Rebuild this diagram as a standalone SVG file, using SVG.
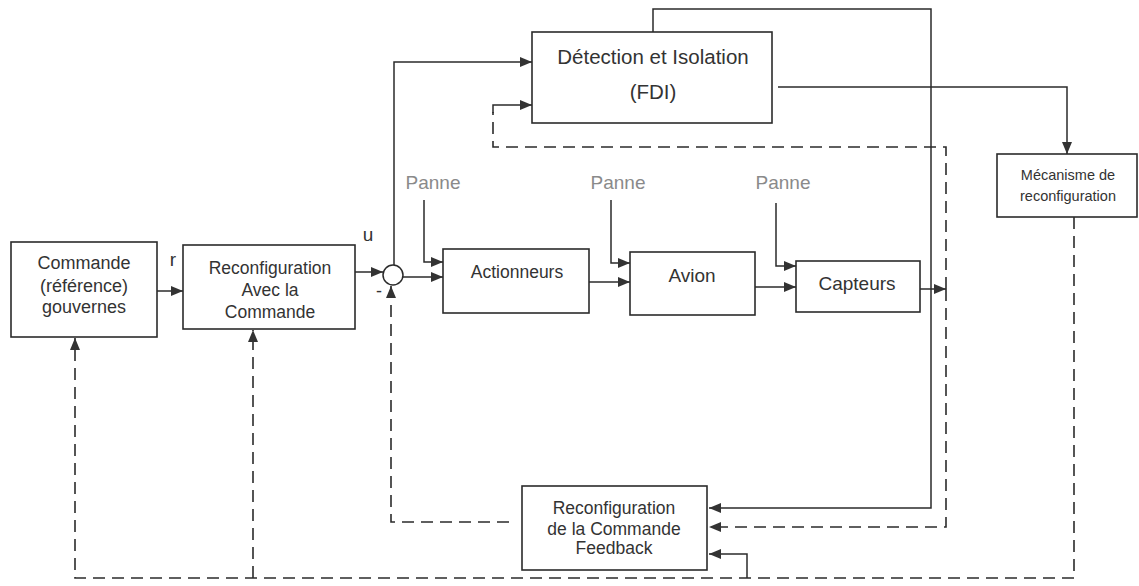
<svg xmlns="http://www.w3.org/2000/svg" width="1139" height="586" viewBox="0 0 1139 586">
  <defs>
    <marker id="ah" viewBox="0 0 12 10" refX="12" refY="5" markerWidth="12" markerHeight="10" markerUnits="userSpaceOnUse" orient="auto">
      <path d="M0,0 L12,5 L0,10 z" fill="#333" stroke="none"/>
    </marker>
    <style>
      .box { fill: #fff; stroke: #2b2b2b; stroke-width: 1.6; }
      .ln { fill: none; stroke: #2b2b2b; stroke-width: 1.5; }
      .dash { fill: none; stroke: #2b2b2b; stroke-width: 1.6; stroke-dasharray: 12 7; }
      .arr { marker-end: url(#ah); }
      text { font-family: "Liberation Sans", Arial, sans-serif; fill: #333; text-anchor: middle; }
      .t18 { font-size: 18px; }
      .t17 { font-size: 17.5px; }
      .t19 { font-size: 19px; }
      .t20 { font-size: 20.5px; }
      .small { font-size: 14.5px; }
      .panne { font-size: 19px; fill: #8a8a8a; }
    </style>
  </defs>
  <rect width="1139" height="586" fill="#fff"/>

  <!-- connectors -->
  <g id="connectors">
    <!-- forward chain -->
    <path class="ln arr" d="M157,291 H183"/>
    <path class="ln arr" d="M355,272 H383"/>
    <path class="ln arr" d="M403,277 H443"/>
    <path class="ln arr" d="M589,282 H630"/>
    <path class="ln arr" d="M755,287 H796"/>
    <path class="ln arr" d="M920,289 H946"/>
    <!-- fault inputs -->
    <path class="ln arr" d="M424,200 V262 H443"/>
    <path class="ln arr" d="M611,200 V263 H630"/>
    <path class="ln arr" d="M776,203 V266 H796"/>
    <!-- control signal u to FDI -->
    <path class="ln arr" d="M394,265 V62 H532"/>
    <!-- FDI to feedback reconfiguration -->
    <path class="ln arr" d="M653,32 V9 H931 V508 H709"/>
    <!-- FDI to reconfiguration mechanism -->
    <path class="ln arr" d="M778,87 H1067 V154"/>
    <!-- measured outputs -->
    <path class="dash" d="M946,289 V147 H493 V112"/>
    <path class="ln arr" d="M493,113 V105 H532"/>
    <path class="dash arr" d="M946,289 V527 H709"/>
    <!-- feedback to summing junction -->
    <path class="dash arr" d="M509,522 H391 V286"/>
    <!-- mechanism to all reconfigurable blocks -->
    <path class="dash arr" d="M1074,217 V578 H75 V338"/>
    <path class="dash arr" d="M253,578 V330"/>
    <path class="ln arr" d="M747,578 V554 H709"/>
  </g>

  <g id="commande">
    <rect class="box" x="11" y="242" width="146" height="95"/>
    <text class="t18" x="84" y="269">Commande</text>
    <text class="t18" x="84" y="292">(référence)</text>
    <text class="t18" x="84" y="313">gouvernes</text>
  </g>
  <text class="t19" x="173" y="266">r</text>

  <g id="reconf-avec">
    <rect class="box" x="183" y="245" width="172" height="84"/>
    <text class="t17" x="270" y="274">Reconfiguration</text>
    <text class="t17" x="270" y="296">Avec la</text>
    <text class="t17" x="270" y="318">Commande</text>
  </g>
  <text class="t19" x="368" y="241">u</text>

  <g id="sommateur">
    <circle cx="393" cy="275" r="10" fill="#fff" stroke="#2b2b2b" stroke-width="1.5"/>
    <text class="t18" x="379" y="297">-</text>
  </g>

  <g id="actionneurs">
    <rect class="box" x="443" y="249" width="146" height="64"/>
    <text class="t17" x="517" y="278">Actionneurs</text>
  </g>

  <g id="avion">
    <rect class="box" x="630" y="252" width="125" height="63"/>
    <text class="t19" x="692" y="282">Avion</text>
  </g>

  <g id="capteurs">
    <rect class="box" x="796" y="261" width="124" height="51"/>
    <text class="t19" x="857" y="290">Capteurs</text>
  </g>

  <g id="pannes">
    <text class="panne" x="433" y="189">Panne</text>
    <text class="panne" x="618" y="189">Panne</text>
    <text class="panne" x="783" y="189">Panne</text>
  </g>

  <g id="fdi">
    <rect class="box" x="532" y="32" width="240" height="91"/>
    <text class="t20" x="653" y="64">Détection et Isolation</text>
    <text class="t20" x="653" y="99">(FDI)</text>
  </g>

  <g id="mecanisme">
    <rect class="box" x="997" y="154" width="140" height="63"/>
    <text class="small" x="1068" y="180">Mécanisme de</text>
    <text class="small" x="1068" y="201">reconfiguration</text>
  </g>

  <g id="reconf-feedback">
    <rect class="box" x="522" y="486" width="185" height="84"/>
    <text class="t17" x="614" y="514">Reconfiguration</text>
    <text class="t17" x="614" y="535">de la Commande</text>
    <text class="t17" x="614" y="554">Feedback</text>
  </g>
</svg>
